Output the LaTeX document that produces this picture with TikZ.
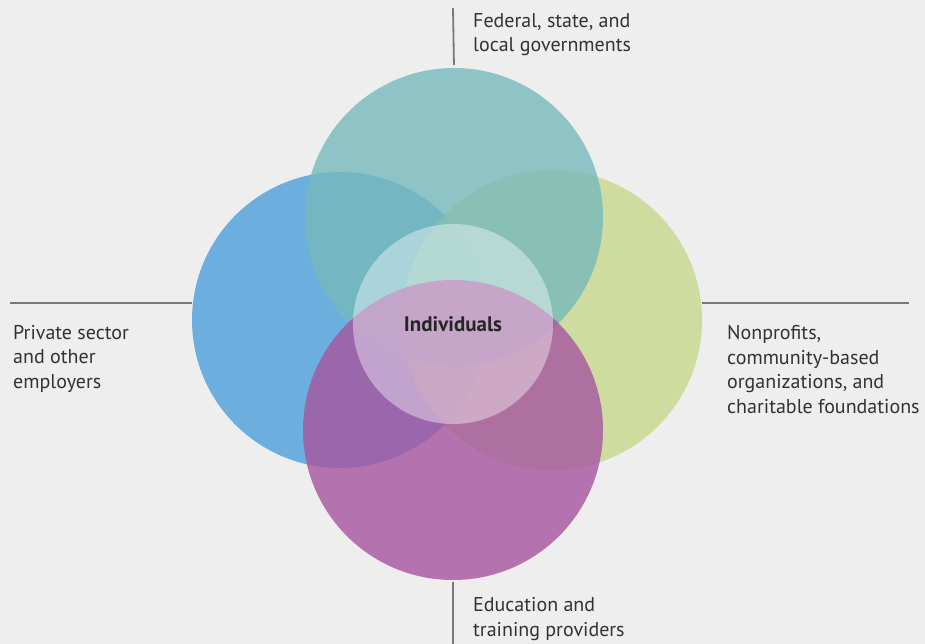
\documentclass[tikz,border=0pt]{standalone}
\usepackage{fontspec}
\setmainfont{PT Sans}
\definecolor{bgc}{RGB}{238,238,238}
\definecolor{tealc}{RGB}{119,186,188}
\definecolor{bluec}{RGB}{76,160,220}
\definecolor{greenc}{RGB}{198,216,141}
\definecolor{purplec}{RGB}{166,85,160}
\definecolor{txtc}{RGB}{50,50,50}
\definecolor{linec}{RGB}{120,120,120}
\begin{document}
\begin{tikzpicture}[x=1pt,y=-1pt,
  blob/.style={circle,inner sep=0pt,draw=none,fill opacity=0.8},
  leader/.style={draw=linec,line width=1.8pt},
  lbl/.style={anchor=base west,align=left,text=txtc,inner sep=0pt,font=\fontsize{20}{24.5}\selectfont}]
\fill[bgc] (0,0) rectangle (925,644);
\useasboundingbox (0,0) rectangle (925,644);
% circles
\node[blob,fill=bluec,minimum size=296pt] (priv) at (340,320) {};
\node[blob,fill=greenc,minimum size=300pt] (npo) at (552,320) {};
\node[blob,fill=tealc,minimum size=298pt] (gov) at (454,217) {};
\node[blob,fill=purplec,minimum size=300pt] (edu) at (453,430) {};
\node[circle,inner sep=0pt,minimum size=200pt,fill=white,fill opacity=0.4,text opacity=1,
  text=black!85,font=\bfseries\fontsize{21}{24}\selectfont] (ind) at (453,324) {Individuals};
% leader lines
\coordinate (gtop) at (453,8);
\coordinate (pl) at (10,303);
\coordinate (pr) at (909,303);
\coordinate (bbot) at (453,644);
\draw[leader,shorten <=3pt] (gov.north) -- (gtop);
\draw[leader] (pl) -- (priv.west |- pl);
\draw[leader] (npo.east |- pr) -- (pr);
\draw[leader,shorten <=2pt] (edu.south) -- (bbot);
% labels (anchored at the baseline of the last line)
\node[lbl] (tgov) at (473,52) {Federal, state, and\\local governments};
\node[lbl] (tpriv) at (13,388) {Private sector\\and other\\employers};
\node[lbl] (tnpo) at (727,413) {Nonprofits,\\community-based\\organizations, and\\charitable foundations};
\node[lbl] (tedu) at (473,636) {Education and\\training providers};
\end{tikzpicture}
\end{document}
